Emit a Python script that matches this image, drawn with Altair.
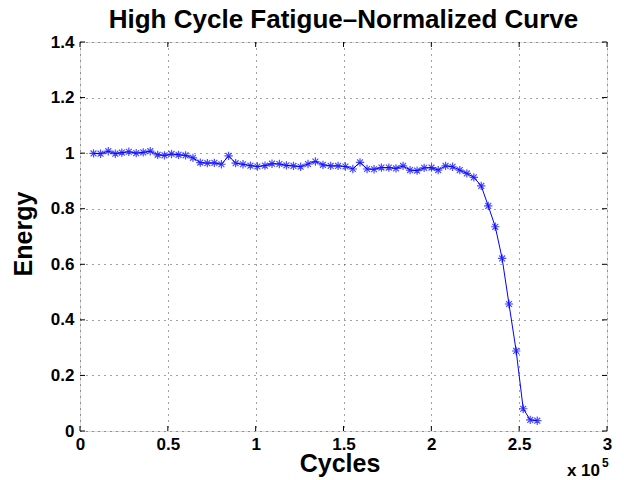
import altair as alt
import pandas as pd

# ---- data ----
cycles = [7700, 11700, 16100, 20100, 23800, 27800, 32000, 36000, 40000, 44200,
          48100, 52100, 56100, 60100, 64300, 68500, 72500, 76500, 80500, 84600,
          88600, 92800, 97000, 101000, 105300, 109300, 113500, 117500, 121500, 125600,
          129800, 134000, 138300, 142700, 146900, 151100, 155300, 159400, 163400, 167400,
          171600, 175800, 179900, 183900, 187900, 191900, 195900, 200100, 203900, 208100,
          212100, 216200, 220200, 224200, 228400, 232400, 236400, 240300, 244200, 248300,
          252300, 256300, 260300]
energy = [0.999, 0.998, 1.007, 0.998, 1.002, 1.005, 1.000, 1.003, 1.007, 0.994,
          0.992, 0.997, 0.994, 0.992, 0.983, 0.966, 0.964, 0.965, 0.960, 0.990,
          0.964, 0.960, 0.955, 0.952, 0.955, 0.962, 0.961, 0.956, 0.954, 0.951,
          0.961, 0.970, 0.958, 0.954, 0.954, 0.952, 0.943, 0.967, 0.943, 0.942,
          0.948, 0.948, 0.945, 0.954, 0.939, 0.937, 0.947, 0.948, 0.939, 0.954,
          0.951, 0.939, 0.927, 0.913, 0.882, 0.810, 0.735, 0.621, 0.457, 0.288,
          0.080, 0.040, 0.037]
x_ticks = [0, 50000, 100000, 150000, 200000, 250000, 300000]
y_ticks = [0, 0.2, 0.4, 0.6, 0.8, 1, 1.2, 1.4]
title_text = "High Cycle Fatigue\u2013Normalized Curve"
x_title = "Cycles"
y_title = "Energy"
exp_base = "x 10"
exp_power = "5"

FONT = "Liberation Sans"
BLUE = "#0000ff"
W, H = 527, 389
TICK_PX = 5

x_min, x_max = x_ticks[0], x_ticks[-1]
y_min, y_max = y_ticks[0], y_ticks[-1]
xs = alt.Scale(domain=[x_min, x_max], nice=False, zero=False)
ys = alt.Scale(domain=[y_min, y_max], nice=False, zero=False)

df = pd.DataFrame({"cycles": cycles, "energy": energy})

xaxis = alt.Axis(values=x_ticks, labelExpr="datum.value / 100000", title=x_title,
                 labelFont=FONT, labelFontSize=17, labelFontWeight="bold", labelColor="black",
                 labelPadding=5, tickSize=0, domain=False, grid=True, gridDash=[1, 5],
                 gridColor="#444444", gridWidth=1, labelFlush=False,
                 titleFont=FONT, titleFontSize=25, titleFontWeight="bold", titleColor="black",
                 titleBaseline="alphabetic", titleY=40, titleX=W / 2 - 4)
yaxis = alt.Axis(values=y_ticks, format="~g", title=y_title,
                 labelFont=FONT, labelFontSize=17, labelFontWeight="bold", labelColor="black",
                 labelPadding=6, tickSize=0, domain=False, grid=True, gridDash=[1, 5],
                 gridColor="#444444", gridWidth=1, labelFlush=False,
                 titleFont=FONT, titleFontSize=25, titleFontWeight="bold", titleColor="black",
                 titleBaseline="middle", titleX=-57, titleY=H / 2 - 3, titleAngle=-90)

base = alt.Chart(df)
line = base.mark_line(color=BLUE, strokeWidth=1).encode(
    x=alt.X("cycles:Q", scale=xs, axis=xaxis),
    y=alt.Y("energy:Q", scale=ys, axis=yaxis),
)
asterisk = "M0,-1L0,1M-1,0L1,0M-0.7,-0.7L0.7,0.7M-0.7,0.7L0.7,-0.7"
pts = base.mark_point(shape=asterisk, filled=False, stroke=BLUE, strokeWidth=1.2, size=70).encode(
    x=alt.X("cycles:Q", scale=xs), y=alt.Y("energy:Q", scale=ys))

# inward tick marks on all four sides
dx_t = (x_max - x_min) * TICK_PX / W
dy_t = (y_max - y_min) * TICK_PX / H
xt = pd.DataFrame({"x": x_ticks})
yt = pd.DataFrame({"y": y_ticks})
xt_bot = alt.Chart(xt).transform_calculate(a=f"{y_min}", b=f"{y_min + dy_t}").mark_rule(
    color="black", strokeWidth=1).encode(x=alt.X("x:Q", scale=xs), y=alt.Y("a:Q", scale=ys), y2="b:Q")
xt_top = alt.Chart(xt).transform_calculate(a=f"{y_max}", b=f"{y_max - dy_t}").mark_rule(
    color="black", strokeWidth=1).encode(x=alt.X("x:Q", scale=xs), y=alt.Y("a:Q", scale=ys), y2="b:Q")
yt_left = alt.Chart(yt).transform_calculate(a=f"{x_min}", b=f"{x_min + dx_t}").mark_rule(
    color="black", strokeWidth=1).encode(y=alt.Y("y:Q", scale=ys), x=alt.X("a:Q", scale=xs), x2="b:Q")
yt_right = alt.Chart(yt).transform_calculate(a=f"{x_max}", b=f"{x_max - dx_t}").mark_rule(
    color="black", strokeWidth=1).encode(y=alt.Y("y:Q", scale=ys), x=alt.X("a:Q", scale=xs), x2="b:Q")

ann = pd.DataFrame({"x": [x_max], "y": [y_min], "base": [exp_base], "pow": [exp_power],
                    "xm": [(x_min + x_max) / 2], "ym": [y_max], "title": [title_text]})
exp1 = alt.Chart(ann).mark_text(font=FONT, fontSize=17, fontWeight="bold", color="black",
                                align="right", baseline="alphabetic", dx=-7, dy=45).encode(
    x=alt.X("x:Q", scale=xs), y=alt.Y("y:Q", scale=ys), text="base:N")
exp2 = alt.Chart(ann).mark_text(font=FONT, fontSize=12, fontWeight="bold", color="black",
                                align="left", baseline="alphabetic", dx=-5, dy=36).encode(
    x=alt.X("x:Q", scale=xs), y=alt.Y("y:Q", scale=ys), text="pow:N")
ttl = alt.Chart(ann).mark_text(font=FONT, fontSize=26, fontWeight="bold", color="black",
                               align="center", baseline="alphabetic", dy=-14).encode(
    x=alt.X("xm:Q", scale=xs), y=alt.Y("ym:Q", scale=ys), text="title:N")

chart = alt.layer(line, pts, xt_bot, xt_top, yt_left, yt_right, exp1, exp2, ttl).properties(
    width=W, height=H,
    autosize=alt.AutoSizeParams(type="none"),
    padding={"left": 72, "top": 34, "right": 9, "bottom": 49},
).configure_view(stroke="black", strokeWidth=1).configure(background="white")

chart.save("out.html", embed_options={"renderer": "svg", "actions": False})
